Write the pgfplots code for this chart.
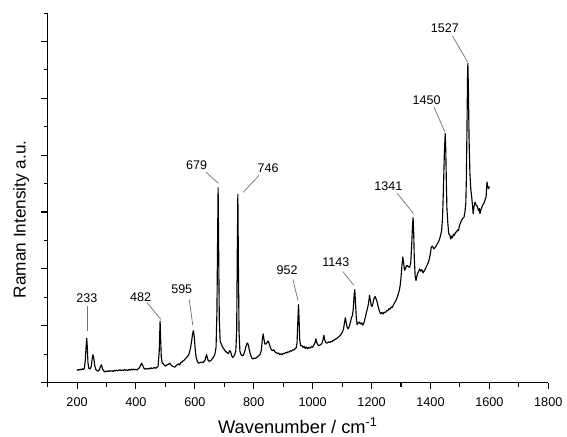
\documentclass[border=0pt]{standalone}
\usepackage{fontspec}
\setmainfont{Liberation Sans}
\usepackage{pgfplots}
\usepackage{pgfplotstable}
\pgfplotsset{compat=1.18}
\pgfplotstableread{
x y
200 0.45
203 0.43
206 0.46
209 0.44
212 0.47
215 0.45
218 0.48
221 0.46
225 0.50
228 0.80
231 1.30
233 1.56
235 1.20
237 0.70
240 0.50
244 0.48
248 0.55
251 0.80
254 0.98
257 0.85
260 0.60
264 0.45
268 0.42
272 0.40
276 0.45
280 0.58
283 0.62
286 0.50
290 0.42
295 0.37
299 0.40
302 0.38
305 0.41
309 0.39
312 0.42
316 0.40
320 0.41
323 0.39
326 0.43
330 0.41
334 0.44
338 0.41
342 0.43
346 0.45
350 0.42
354 0.44
357 0.42
361 0.46
365 0.43
369 0.45
372 0.42
376 0.46
380 0.44
384 0.47
388 0.44
392 0.47
396 0.45
400 0.46
404 0.44
408 0.49
412 0.52
415 0.60
419 0.68
423 0.60
427 0.50
431 0.47
435 0.49
439 0.47
443 0.50
447 0.48
451 0.52
455 0.49
459 0.51
463 0.53
467 0.50
471 0.54
475 0.56
479 1.10
481 1.80
482 2.16
484 1.50
486 0.90
489 0.70
493 0.66
497 0.60
501 0.58
505 0.62
510 0.64
515 0.68
519 0.62
523 0.58
527 0.56
532 0.54
537 0.60
541 0.63
545 0.66
548 0.62
552 0.70
556 0.72
560 0.76
564 0.79
568 0.84
572 0.88
576 0.93
580 1.00
585 1.20
589 1.45
592 1.70
595 1.83
598 1.60
601 1.20
604 0.90
608 0.76
612 0.68
617 0.70
622 0.72
627 0.70
631 0.74
635 0.80
638 0.92
640 0.98
643 0.85
646 0.76
650 0.75
655 0.78
660 0.85
664 0.90
668 1.00
672 1.24
675 2.50
677 4.80
679 6.86
681 4.50
683 2.20
686 1.45
690 1.35
694 1.25
698 1.19
702 1.12
706 1.08
710 1.05
714 1.02
718 1.12
721 1.10
725 0.95
728 0.88
732 0.92
736 1.00
739 1.10
742 1.80
744 4.50
746 6.62
748 4.00
750 1.80
753 1.10
756 1.00
760 0.95
764 0.95
768 1.05
772 1.20
776 1.36
779 1.39
782 1.30
786 1.10
790 0.95
794 0.85
798 0.83
802 0.86
806 0.85
810 0.88
814 0.92
818 0.95
822 1.00
826 1.15
829 1.50
832 1.71
835 1.50
838 1.35
842 1.36
846 1.42
849 1.46
852 1.38
856 1.25
860 1.15
864 1.12
868 1.15
872 1.08
876 1.05
880 1.02
884 1.04
888 0.99
892 1.01
896 0.98
900 1.03
904 1.01
908 1.06
912 1.04
916 1.08
920 1.07
924 1.12
928 1.10
932 1.15
936 1.14
940 1.19
944 1.22
947 1.40
949 2.00
952 2.74
954 2.20
956 1.50
959 1.30
963 1.30
967 1.24
971 1.27
975 1.20
979 1.25
983 1.19
987 1.24
991 1.21
995 1.26
999 1.24
1003 1.30
1008 1.40
1011 1.54
1014 1.40
1018 1.32
1022 1.30
1026 1.33
1030 1.36
1034 1.45
1038 1.66
1041 1.50
1045 1.40
1050 1.39
1054 1.43
1058 1.41
1062 1.45
1066 1.44
1070 1.48
1074 1.50
1078 1.53
1082 1.55
1086 1.59
1090 1.62
1094 1.66
1098 1.72
1102 1.80
1105 1.90
1108 2.10
1111 2.28
1114 2.10
1117 1.95
1121 1.89
1125 2.00
1129 2.15
1132 2.30
1135 2.35
1138 2.60
1141 3.10
1143 3.27
1145 2.90
1148 2.30
1151 2.04
1155 2.10
1158 2.13
1162 2.06
1166 2.10
1170 2.02
1174 2.10
1178 2.25
1182 2.45
1186 2.60
1190 2.80
1193 3.07
1196 2.90
1199 2.70
1202 2.68
1205 2.80
1208 2.95
1212 3.03
1215 2.95
1219 2.83
1223 2.65
1227 2.50
1231 2.42
1235 2.47
1239 2.41
1243 2.48
1247 2.46
1251 2.53
1255 2.52
1259 2.60
1263 2.58
1267 2.66
1271 2.65
1275 2.75
1279 2.82
1283 2.89
1287 3.00
1291 3.12
1294 3.24
1297 3.40
1300 3.70
1303 4.10
1306 4.42
1309 4.20
1312 3.95
1315 4.00
1318 4.10
1321 4.12
1325 4.08
1329 4.05
1333 4.20
1336 4.80
1339 5.50
1341 5.80
1343 5.30
1345 4.40
1348 3.75
1351 3.59
1355 3.80
1359 3.89
1363 4.00
1367 3.92
1371 3.97
1375 3.86
1379 3.93
1383 4.00
1387 4.10
1391 4.18
1395 4.30
1399 4.50
1403 4.77
1407 4.80
1411 4.70
1415 4.74
1419 4.80
1423 4.88
1427 4.94
1431 5.05
1435 5.20
1438 5.36
1441 5.80
1444 6.80
1447 8.00
1450 8.76
1452 8.20
1454 7.00
1456 6.10
1459 5.60
1462 5.24
1466 5.18
1469 5.05
1472 5.15
1475 5.10
1478 5.22
1481 5.18
1485 5.28
1488 5.30
1492 5.37
1495 5.34
1498 5.50
1502 5.62
1506 5.71
1510 5.78
1514 5.82
1517 6.00
1520 6.30
1522 7.20
1524 9.00
1526 10.80
1527 11.23
1529 10.20
1531 8.60
1534 7.35
1537 6.80
1540 6.53
1543 6.20
1545 5.94
1548 6.20
1551 6.35
1555 6.25
1559 6.20
1563 6.05
1566 6.12
1568 5.94
1572 6.10
1577 6.24
1581 6.30
1585 6.41
1589 6.55
1592 7.06
1594 6.90
1597 6.82
1600 6.90
}\spectrum
\begin{document}
\begin{tikzpicture}
\path[use as bounding box] (0,0) rectangle (425.25pt,327pt);
\begin{axis}[
  at={(35.7pt,40.1pt)}, anchor=south west,
  scale only axis, width=375.5pt, height=277.1pt,
  xmin=100, xmax=1800, ymin=0, ymax=13,
  axis x line*=bottom, axis y line*=left,
  axis line style={-, line width=0.9pt},
  tick align=outside,
  major tick length=5pt, minor tick length=3pt,
  every tick/.style={black, line width=0.8pt},
  xtick={200,400,...,1800}, minor xtick={100,300,...,1700},
  ytick={0,2,...,12}, minor ytick={1,3,...,13},
  yticklabels={},
  /pgf/number format/assume math mode=true,
  /pgf/number format/1000 sep={},
  xticklabel style={font=\fontsize{9.5}{11}\selectfont, yshift=-3pt},
  xlabel={Wavenumber / cm\textsuperscript{-1}},
  ylabel={Raman Intensity a.u.},
  xlabel style={at={(axis description cs:0.5,-0.1375)}, anchor=base, font=\fontsize{13.7}{16}\selectfont},
  ylabel style={at={(axis description cs:-0.0437,0.442)}, anchor=base, font=\fontsize{12.9}{15}\selectfont},
  clip=false,
]
\addplot[black, line width=0.85pt, mark=none, line join=round] table[x=x, y=y] {\spectrum};
\begin{scope}[black!55, line width=0.55pt]
\draw (axis cs:235,2.68) -- (axis cs:235,1.83);
\draw (axis cs:437,2.82) -- (axis cs:485,2.22);
\draw (axis cs:581,2.92) -- (axis cs:593,2.01);
\draw (axis cs:638,7.40) -- (axis cs:680,7.01);
\draw (axis cs:818,7.29) -- (axis cs:763.6,6.69);
\draw (axis cs:933,3.63) -- (axis cs:950,2.89);
\draw (axis cs:1102,3.91) -- (axis cs:1140,3.42);
\draw (axis cs:1287,6.66) -- (axis cs:1342,5.95);
\draw (axis cs:1412,9.69) -- (axis cs:1449,8.81);
\draw (axis cs:1475,12.19) -- (axis cs:1526,11.28);
\end{scope}
\begin{scope}[every node/.style={font=\fontsize{9.4}{11}\selectfont, inner sep=0pt}]
\node at (axis cs:233,2.96) {233};
\node at (axis cs:416,2.99) {482};
\node at (axis cs:555.5,3.28) {595};
\node at (axis cs:606,7.65) {679};
\node at (axis cs:848.5,7.54) {746};
\node at (axis cs:913,3.95) {952};
\node at (axis cs:1079,4.23) {1143};
\node at (axis cs:1257,6.91) {1341};
\node at (axis cs:1387,9.94) {1450};
\node at (axis cs:1449,12.47) {1527};
\end{scope}
\end{axis}
\end{tikzpicture}
\end{document}
